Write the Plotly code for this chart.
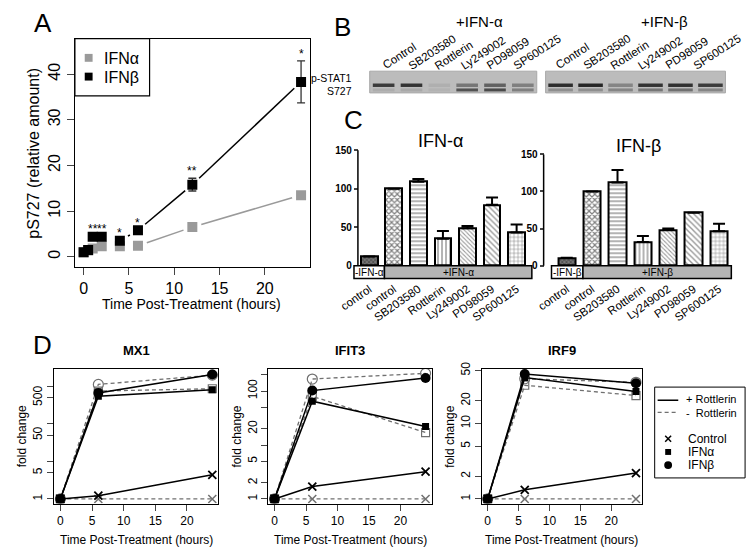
import math
import plotly.graph_objects as go

W, H = 750, 550
FONT = "Liberation Sans, Arial, sans-serif"

# ---------------- data ----------------
# Panel A
timeA = [0, 0.5, 1, 2, 4, 6, 12, 24]
ifna_A = [1.0, 1.4, 1.8, 2.3, 2.3, 2.4, 6.5, 13.5]
ifnb_A = [1.0, 1.5, 4.4, 4.4, 3.5, 5.8, 15.8, 38.3]
ifnb_err = [0, 0, 0, 0, 0, 0, 1.4, 4.6]
stars_A = ["", "", "**", "**", "*", "*", "**", "*"]

# Panel B (band darkness 0..1)
lanes_B = ["Control", "SB203580", "Rottlerin", "Ly249002", "PD98059", "SP600125"]
blot_a_upper = [0.85, 0.9, 0.08, 0.45, 0.6, 0.4]
blot_a_lower = [0.1, 0.12, 0.05, 0.7, 0.75, 0.4]
blot_b_upper = [0.95, 1.0, 0.35, 0.9, 0.92, 0.85]
blot_b_lower = [0.3, 0.3, 0.35, 0.45, 0.5, 0.35]

# Panel C
treat_C = ["control", "control", "SB203580", "Rottlerin", "Ly249002", "PD98059", "SP600125"]
alpha_C = [12, 100, 109, 35, 48.5, 79, 43]
alpha_C_err = [0, 0, 3.5, 10, 3, 9.5, 10.5]
beta_C = [10.5, 100, 112, 32, 48, 71.5, 46.5]
beta_C_err = [0, 0, 17, 8, 2, 0, 10]

# Panel D
timeD = [0, 6, 24]
mx1_ctrl_p = [1, 1.22, 4.4]
mx1_ctrl_m = [1, 1, 1]
mx1_ifna_p = [1, 545, 815]
mx1_ifna_m = [1, 750, 865]
mx1_ifnb_p = [1, 670, 2070]
mx1_ifnb_m = [1, 1130, 1990]

ifit3_ctrl_p = [1, 1.7, 3.2]
ifit3_ctrl_m = [1, 1, 1]
ifit3_ifna_p = [1, 65, 22]
ifit3_ifna_m = [1, 80, 17]
ifit3_ifnb_p = [1, 102, 175]
ifit3_ifnb_m = [1, 167, 213]

irf9_ctrl_p = [1, 1.32, 2.2]
irf9_ctrl_m = [1, 1, 1]
irf9_ifna_p = [1, 40.5, 26.5]
irf9_ifna_m = [1, 32, 23.4]
irf9_ifnb_p = [1, 45, 34]
irf9_ifnb_m = [1, 39, 35]

# ---------------- helpers ----------------
def X(p):
    return p / W

def Y(p):
    return 1 - p / H

def rng(p0, v0, p1, v1, lo, hi):
    s = (p1 - p0) / (v1 - v0)
    return [v0 + (lo - p0) / s, v0 + (hi - p0) / s]

fig = go.Figure()
shapes = []
ann = []

def text(x, y, t, size, **kw):
    d = dict(x=X(x), y=Y(y), xref="paper", yref="paper", text=t, showarrow=False,
             font=dict(family=FONT, size=size, color=kw.pop("color", "black")),
             xanchor=kw.pop("xanchor", "center"), yanchor=kw.pop("yanchor", "middle"))
    d.update(kw)
    ann.append(d)

def rect(x0, y0, x1, y1, fill="rgba(0,0,0,0)", lw=1, lc="black"):
    shapes.append(dict(type="rect", xref="paper", yref="paper", x0=X(x0), x1=X(x1),
                       y0=Y(y0), y1=Y(y1), fillcolor=fill,
                       line=dict(width=lw, color=lc)))

def gapped(xs, ys, sx, sy, gap):
    gx, gy = [], []
    for i in range(len(xs) - 1):
        dx = (xs[i + 1] - xs[i]) * sx
        dy = (ys[i + 1] - ys[i]) * sy
        d = math.hypot(dx, dy)
        if d <= 2 * gap:
            continue
        f = gap / d
        gx += [xs[i] + (xs[i + 1] - xs[i]) * f, xs[i + 1] - (xs[i + 1] - xs[i]) * f, None]
        gy += [ys[i] + (ys[i + 1] - ys[i]) * f, ys[i + 1] - (ys[i + 1] - ys[i]) * f, None]
    return gx, gy

axis_font = dict(family=FONT, color="black")

# ---------------- Panel A ----------------
xA_dom = (63, 302)
yA_dom = (263, 32)
xA_rng = [-0.96, 24.96]
yA_rng = rng(253, 0, 68, 40, 263, 32)
sxA = (xA_dom[1] - xA_dom[0]) / (xA_rng[1] - xA_rng[0])
syA = (yA_dom[0] - yA_dom[1]) / (yA_rng[1] - yA_rng[0])

gx, gy = gapped(timeA, ifna_A, sxA, syA, 9.5)
fig.add_trace(go.Scatter(x=gx, y=gy, mode="lines", line=dict(color="#9a9a9a", width=1.5),
                         xaxis="x", yaxis="y", showlegend=False, hoverinfo="skip"))
gx, gy = gapped(timeA, ifnb_A, sxA, syA, 9.5)
fig.add_trace(go.Scatter(x=gx, y=gy, mode="lines", line=dict(color="black", width=1.5),
                         xaxis="x", yaxis="y", showlegend=False, hoverinfo="skip"))
fig.add_trace(go.Scatter(x=timeA, y=ifna_A, mode="markers",
                         marker=dict(symbol="square", size=10, color="#9a9a9a"),
                         xaxis="x", yaxis="y", showlegend=False))
fig.add_trace(go.Scatter(x=timeA, y=ifnb_A, mode="markers",
                         marker=dict(symbol="square", size=10, color="black"),
                         error_y=dict(type="data", array=ifnb_err, symmetric=True,
                                      color="#333", thickness=1.3, width=4),
                         xaxis="x", yaxis="y", showlegend=False))
for t, v, e, s in zip(timeA, ifnb_A, ifnb_err, stars_A):
    if s:
        ann.append(dict(x=t, y=v + e + 1.6, xref="x", yref="y", text=s, showarrow=False,
                        font=dict(family=FONT, size=12, color="black"), yanchor="middle",
                        borderpad=0))

fig.update_layout(
    xaxis=dict(domain=[X(xA_dom[0]), X(xA_dom[1])], range=xA_rng, tickvals=[0, 5, 10, 15, 20],
               ticks="outside", ticklen=7, tickwidth=1, showline=True, mirror=True,
               linecolor="black", linewidth=1.3, showgrid=False, zeroline=False,
               tickfont=dict(size=16, **axis_font), anchor="y"),
    yaxis=dict(domain=[Y(yA_dom[0]), Y(yA_dom[1])], range=yA_rng, tickvals=[0, 10, 20, 30, 40],
               ticks="outside", ticklen=7, tickwidth=1, showline=True, mirror=True,
               linecolor="black", linewidth=1.3, showgrid=False, zeroline=False,
               tickangle=-90, tickfont=dict(size=16, **axis_font), anchor="x"),
)
text(20, 148, "pS727 (relative amount)", 16, textangle=-90)
text(182, 301, "Time Post-Treatment (hours)", 14)
text(31, 16, "A", 26)
# legend A
rect(63, 32, 139, 90, fill="white", lw=1.2)
rect(73, 47.5, 81, 55.5, fill="#9a9a9a", lw=0)
rect(73, 66.5, 81, 74.5, fill="black", lw=0)
text(91, 52, "IFNα", 16, xanchor="left")
text(91, 71, "IFNβ", 16, xanchor="left")

# ---------------- Panel B ----------------
text(335, 20, "B", 26)
text(475, 15, "+IFN-α", 15)
text(663, 15, "+IFN-β", 15)
text(347, 72, "p-STAT1", 10.5, xanchor="right")
text(347, 85, "S727", 10.5, xanchor="right")

def blot(x0, x1, upper, lower, bw, lab0, labstep):
    rect(x0, 65, x1, 87, fill="#bcbcbc", lw=1, lc="#a8a8a8")
    lw_ = (x1 - x0) / len(lanes_B)
    for i, name in enumerate(lanes_B):
        cx = x0 + (i + 0.5) * lw_
        shapes.append(dict(type="rect", xref="paper", yref="paper",
                           x0=X(cx - bw / 2), x1=X(cx + bw / 2), y0=Y(81), y1=Y(77.5),
                           fillcolor="rgba(20,20,20,%.2f)" % (upper[i] * 0.9), line=dict(width=0)))
        shapes.append(dict(type="rect", xref="paper", yref="paper",
                           x0=X(cx - bw / 2), x1=X(cx + bw / 2), y0=Y(85.5), y1=Y(82.5),
                           fillcolor="rgba(20,20,20,%.2f)" % (lower[i] * 0.9), line=dict(width=0)))
        lx = lab0 + i * labstep
        ann.append(dict(x=X(lx - 6), y=Y(68), xref="paper", yref="paper", text=name,
                        showarrow=False, textangle=-33, xanchor="left", yanchor="bottom",
                        font=dict(family=FONT, size=11.5, color="black")))

blot(363, 533, blot_a_upper, blot_a_lower, 22, 377, 26.6)
blot(542, 725, blot_b_upper, blot_b_lower, 25, 553, 28)

# ---------------- Panel C ----------------
pat_shape = ["x", "x", "-", "|", "\\", "\\", "+"]
pat_bg = ["#7a7a7a", "white", "white", "white", "white", "white", "white"]
pat_fg = ["#222", "black", "black", "black", "#333", "#333", "black"]
pat_size = [3, 4, 4, 4, 3, 4, 4]
pat_sol = [0.5, 0.5, 0.3, 0.3, 0.35, 0.35, 0.25]
idx = list(range(len(treat_C)))

def cpanel(n, vals, errs, c0px, c6px, dom_x, axis_px, zero_px, top_px, box_l, box_mid, box_r, title, tx, ty, minus, plus):
    xa = "x%d" % n
    ya = "y%d" % n
    fig.add_trace(go.Bar(x=idx, y=vals, width=0.68, xaxis=xa, yaxis=ya, showlegend=False,
                         marker=dict(color="white", line=dict(color="black", width=2),
                                     pattern=dict(shape=pat_shape, bgcolor=pat_bg, fgcolor=pat_fg,
                                                  size=pat_size, solidity=pat_sol)),
                         error_y=dict(type="data", array=errs, arrayminus=[0] * len(errs),
                                      symmetric=False, color="black", thickness=2, width=6)))
    xr = rng(c0px, 0, c6px, 6, dom_x[0], dom_x[1])
    yr = rng(zero_px, 0, top_px, 150, 276, 138)
    fig.layout["xaxis%d" % n] = dict(domain=[X(dom_x[0]), X(dom_x[1])], range=xr, tickvals=idx,
                                     ticktext=treat_C, tickangle=-35, ticks="", showline=False,
                                     showgrid=False, zeroline=False, anchor=ya,
                                     tickfont=dict(size=11.5, **axis_font))
    fig.layout["yaxis%d" % n] = dict(domain=[Y(276), Y(138)], range=yr, tickvals=[0, 50, 100, 150],
                                     ticks="outside", ticklen=4, tickwidth=1.5, showline=False,
                                     showgrid=False, zeroline=False, anchor="free",
                                     position=X(axis_px),
                                     tickfont=dict(size=10, weight="bold", **axis_font))
    shapes.append(dict(type="line", xref="paper", yref=ya, x0=X(axis_px), x1=X(axis_px),
                       y0=0, y1=150, line=dict(color="black", width=1.5)))
    rect(box_l, 262, box_mid, 275, fill="white", lw=1.5)
    rect(box_mid, 262, box_r, 275, fill="#b4b4b4", lw=1.5)
    text((box_l + box_mid) / 2, 268.5, minus, 10)
    text((box_mid + box_r) / 2, 268.5, plus, 10)
    text(tx, ty, title, 18)

cpanel(2, alpha_C, alpha_C_err, 362.5, 512.5, (345, 530), 351, 262, 145, 347, 378, 528,
       "IFN-α", 435, 136, "-IFN-α", "+IFN-α")
cpanel(3, beta_C, beta_C_err, 563.5, 718.5, (546, 733), 540, 262, 149.3, 548, 580, 731,
       "IFN-β", 637, 141, "-IFN-β", "+IFN-β")
text(347, 114, "C", 26)

# ---------------- Panel D ----------------
GRAY = "#707070"

def dpanel(n, dom_x, lg_px, lg_val, ticks, ticktext, title, series):
    xa = "x%d" % n
    ya = "y%d" % n
    ctrl_p, ctrl_m, ifna_p, ifna_m, ifnb_p, ifnb_m = series
    dash = dict(color=GRAY, width=1.3, dash="4px,3px")
    solid = dict(color="black", width=1.5)
    specs = [
        (ctrl_m, dash, dict(symbol="x-thin", size=8, color=GRAY, line=dict(width=1.5, color=GRAY))),
        (ifna_m, dash, dict(symbol="square-open", size=8, color=GRAY, line=dict(width=1.2))),
        (ifnb_m, dash, dict(symbol="circle-open", size=10, color=GRAY, line=dict(width=1.2))),
        (ctrl_p, solid, dict(symbol="x-thin", size=8, color="black", line=dict(width=1.8, color="black"))),
        (ifna_p, solid, dict(symbol="square", size=7, color="black")),
        (ifnb_p, solid, dict(symbol="circle", size=10, color="black")),
    ]
    for ys, ln, mk in specs:
        fig.add_trace(go.Scatter(x=timeD, y=ys, mode="lines+markers", line=ln, marker=mk,
                                 xaxis=xa, yaxis=ya, showlegend=False))
    yr = rng(498.3, 0, lg_px, lg_val, 503, 366.5)
    fig.layout["xaxis%d" % n] = dict(domain=[X(dom_x[0]), X(dom_x[1])], range=[-0.96, 24.96],
                                     tickvals=[0, 5, 10, 15, 20], ticks="outside", ticklen=6,
                                     showline=True, mirror=True, linecolor="black", linewidth=1.3,
                                     showgrid=False, zeroline=False, anchor=ya,
                                     tickfont=dict(size=12, **axis_font))
    fig.layout["yaxis%d" % n] = dict(domain=[Y(503), Y(366.5)], type="log", range=yr,
                                     tickvals=ticks, ticktext=ticktext, ticks="outside", ticklen=6,
                                     tickangle=-90, showline=True, mirror=True, linecolor="black",
                                     linewidth=1.3, showgrid=False, zeroline=False, anchor=xa,
                                     tickfont=dict(size=12, **axis_font))
    cx = (dom_x[0] + dom_x[1]) / 2
    text(cx, 348, "<b>%s</b>" % title, 13)
    text(cx, 540, "Time Post-Treatment (hours)", 12)
    text(dom_x[0] - 32, 435, "fold change", 12, textangle=-90)

dpanel(4, (42, 209), 395.7, math.log10(500), [1, 5, 10, 50, 100, 500, 1000],
       ["1", "5", "", "50", "", "500", ""], "MX1",
       (mx1_ctrl_p, mx1_ctrl_m, mx1_ifna_p, mx1_ifna_m, mx1_ifnb_p, mx1_ifnb_m))
dpanel(5, (260, 426), 389, 2, [1, 2, 5, 10, 20, 50, 100, 200],
       ["1", "2", "5", "", "20", "", "100", ""], "IFIT3",
       (ifit3_ctrl_p, ifit3_ctrl_m, ifit3_ifna_p, ifit3_ifna_m, ifit3_ifnb_p, ifit3_ifnb_m))
dpanel(6, (477, 640), 368.3, math.log10(50), [1, 2, 5, 10, 20, 50],
       ["1", "2", "5", "10", "20", "50"], "IRF9",
       (irf9_ctrl_p, irf9_ctrl_m, irf9_ifna_p, irf9_ifna_m, irf9_ifnb_p, irf9_ifnb_m))
text(30, 342, "D", 26)

# legend D
rect(653, 385, 745, 477, fill="white", lw=1)
shapes.append(dict(type="line", xref="paper", yref="paper", x0=X(656), x1=X(677), y0=Y(398.3), y1=Y(398.3),
                   line=dict(color="black", width=1.5)))
shapes.append(dict(type="line", xref="paper", yref="paper", x0=X(656), x1=X(677), y0=Y(410.7), y1=Y(410.7),
                   line=dict(color=GRAY, width=1.3, dash="4px,3px")))
text(684, 404.5, "+ Rottlerin<br>-  Rottlerin", 11, xanchor="left", align="left", borderpad=0)
for dx0, dy0, dx1, dy1 in [(-3, -3, 3, 3), (-3, 3, 3, -3)]:
    shapes.append(dict(type="line", xref="paper", yref="paper", x0=X(666.7 + dx0), x1=X(666.7 + dx1),
                       y0=Y(437.3 + dy0), y1=Y(437.3 + dy1), line=dict(color="black", width=1.5)))
rect(663.7, 447.7, 669.7, 453.7, fill="black", lw=0)
shapes.append(dict(type="circle", xref="paper", yref="paper", x0=X(662.7), x1=X(670.7),
                   y0=Y(468), y1=Y(460), fillcolor="black", line=dict(width=0)))
text(686, 437.3, "Control", 12, xanchor="left", borderpad=0)
text(686, 450.7, "IFNα", 12, xanchor="left", borderpad=0)
text(686, 464, "IFNβ", 12, xanchor="left", borderpad=0)

fig.update_layout(width=W, height=H, margin=dict(l=0, r=0, t=0, b=0), autosize=False,
                  paper_bgcolor="white", plot_bgcolor="white", shapes=shapes, annotations=ann,
                  font=dict(family=FONT, color="black"), showlegend=False, bargap=0,
                  hovermode=False)
fig.write_html("out.html", config={"displayModeBar": False},
               post_script="document.body.style.margin='0px';")

with open("out.html", "r", encoding="utf-8") as fh:
    html = fh.read()
html = html.replace("<body>", "<body style=\"margin:0;overflow:hidden\">", 1)
with open("out.html", "w", encoding="utf-8") as fh:
    fh.write(html)
